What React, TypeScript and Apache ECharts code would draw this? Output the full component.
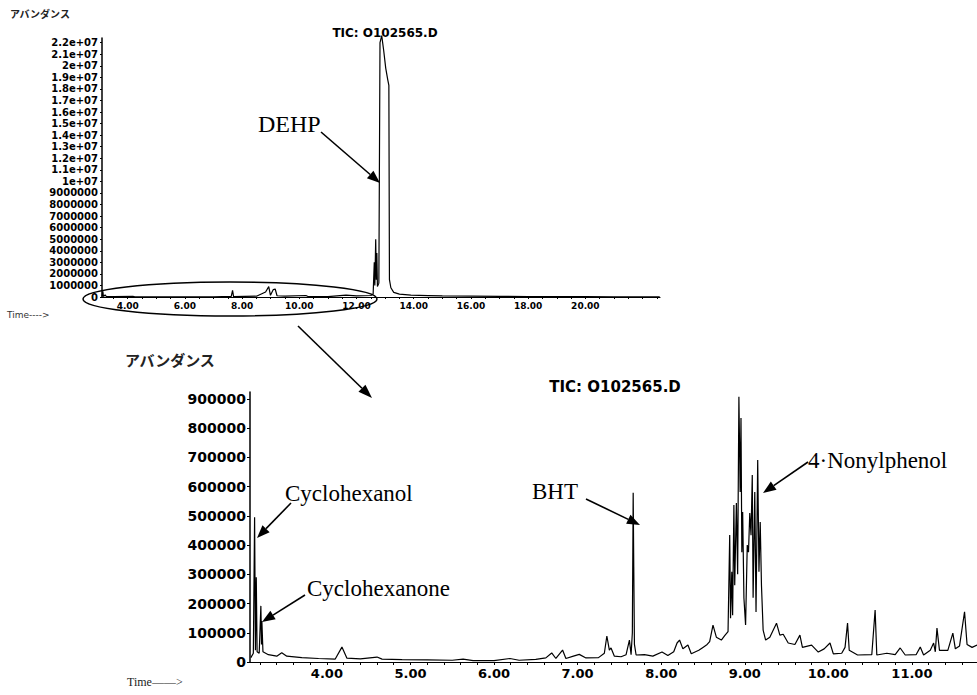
import React, { useEffect, useRef } from "react";
import * as echarts from "echarts";

// ---- Top chromatogram (full run) ----
const topTime = [3.10, 3.13, 3.15, 3.21, 3.25, 3.50, 4.18, 4.25, 5.00, 6.00, 7.00, 7.62, 7.665, 7.70, 8.50, 8.82, 8.93, 8.99, 9.09, 9.155, 9.22, 9.50, 10.23, 10.30, 11.00, 11.63, 12.00, 12.50, 12.58, 12.62, 12.64, 12.67, 12.69, 12.71, 12.73, 12.78, 12.82, 12.88, 12.95, 13.02, 13.09, 13.13, 13.15, 13.20, 13.30, 13.50, 13.90, 14.50, 15.00, 16.00, 17.00, 18.00, 19.00, 20.00, 21.00, 22.60];
const topAbundance = [30000, 495000, 40000, 190000, 40000, 25000, 50000, 12000, 8000, 6000, 20000, 60000, 580000, 30000, 70000, 430000, 900000, 150000, 640000, 690000, 110000, 70000, 130000, 40000, 40000, 170000, 90000, 130000, 250000, 3000000, 1000000, 5000000, 1500000, 3800000, 900000, 1200000, 22000000, 22600000, 21300000, 19800000, 18800000, 18300000, 1500000, 800000, 400000, 250000, 160000, 120000, 90000, 70000, 50000, 40000, 30000, 25000, 20000, 15000];

// ---- Bottom chromatogram (zoomed 3–12 min) ----
const bottomTime = [3.09, 3.12, 3.135, 3.145, 3.155, 3.165, 3.19, 3.21, 3.218, 3.222, 3.235, 3.30, 3.40, 3.46, 3.52, 3.70, 3.90, 4.10, 4.18, 4.24, 4.40, 4.60, 4.66, 4.90, 5.20, 5.50, 5.63, 5.75, 6.00, 6.19, 6.30, 6.50, 6.62, 6.69, 6.74, 6.82, 6.86, 6.95, 7.02, 7.10, 7.25, 7.32, 7.35, 7.38, 7.40, 7.44, 7.52, 7.58, 7.62, 7.64, 7.655, 7.665, 7.672, 7.68, 7.70, 7.80, 7.90, 8.01, 8.08, 8.15, 8.19, 8.22, 8.26, 8.32, 8.36, 8.45, 8.50, 8.55, 8.58, 8.62, 8.66, 8.72, 8.76, 8.80, 8.82, 8.83, 8.845, 8.855, 8.87, 8.88, 8.90, 8.915, 8.93, 8.945, 8.955, 8.965, 8.975, 8.99, 9.01, 9.03, 9.045, 9.06, 9.075, 9.09, 9.10, 9.12, 9.135, 9.155, 9.17, 9.185, 9.20, 9.22, 9.25, 9.30, 9.38, 9.42, 9.46, 9.52, 9.60, 9.66, 9.69, 9.80, 9.88, 9.95, 10.02, 10.06, 10.16, 10.20, 10.23, 10.25, 10.35, 10.52, 10.56, 10.58, 10.70, 10.80, 10.86, 10.92, 11.05, 11.10, 11.14, 11.22, 11.26, 11.28, 11.30, 11.33, 11.43, 11.49, 11.52, 11.57, 11.63, 11.66, 11.72, 11.78];
const bottomAbundance = [15000, 30000, 495000, 40000, 290000, 35000, 30000, 192000, 60000, 140000, 35000, 25000, 20000, 32000, 20000, 15000, 12000, 10000, 51000, 13000, 11000, 17000, 10000, 8000, 7000, 6000, 10000, 5000, 5000, 12000, 6000, 9000, 14000, 31000, 12000, 41000, 12000, 20000, 26000, 14000, 15000, 30000, 89000, 41000, 48000, 20000, 18000, 25000, 75000, 25000, 100000, 579000, 325000, 60000, 24000, 25000, 20000, 34000, 22000, 35000, 65000, 75000, 45000, 58000, 28000, 40000, 50000, 60000, 70000, 126000, 85000, 75000, 90000, 104000, 435000, 150000, 309000, 160000, 537000, 263000, 544000, 300000, 908000, 582000, 835000, 376000, 513000, 219000, 127000, 400000, 376000, 510000, 434000, 640000, 220000, 582000, 171000, 691000, 309000, 479000, 263000, 109000, 75000, 85000, 133000, 92000, 95000, 65000, 60000, 92000, 50000, 58000, 34000, 45000, 65000, 28000, 30000, 50000, 133000, 40000, 24000, 25000, 178000, 24000, 30000, 25000, 48000, 24000, 25000, 51000, 24000, 40000, 65000, 35000, 116000, 40000, 40000, 99000, 45000, 55000, 172000, 60000, 50000, 58000];

// ---- Axis ticks ----
const topYTicks = [0, 1000000, 2000000, 3000000, 4000000, 5000000, 6000000, 7000000, 8000000, 9000000, 10000000, 11000000, 12000000, 13000000, 14000000, 15000000, 16000000, 17000000, 18000000, 19000000, 20000000, 21000000, 22000000];
const topXLabels = [4, 6, 8, 10, 12, 14, 16, 18, 20];
const bottomYTicks = [0, 100000, 200000, 300000, 400000, 500000, 600000, 700000, 800000, 900000];
const bottomXLabels = [4, 5, 6, 7, 8, 9, 10, 11];

const TITLE = "TIC: O102565.D";
const Y_NAME = "アバンダンス";

function zip(a: number[], b: number[]) {
  return a.map((t, i) => [t, b[i]]);
}

function fmtTop(v: number) {
  if (v >= 10000000) return v.toExponential().replace(/e\+(\d)$/, "e+0$1");
  return String(v);
}

function arrow(x1: number, y1: number, x2: number, y2: number, head = 13, half = 5) {
  const dx = x2 - x1, dy = y2 - y1;
  const L = Math.sqrt(dx * dx + dy * dy);
  const ux = dx / L, uy = dy / L;
  const bx = x2 - ux * head, by = y2 - uy * head;
  return [
    { type: "line", shape: { x1, y1, x2: bx, y2: by }, style: { stroke: "#000", lineWidth: 1.6 } },
    {
      type: "polygon",
      shape: { points: [[x2, y2], [bx - uy * half, by + ux * half], [bx + uy * half, by - ux * half]] },
      style: { fill: "#000" },
    },
  ];
}

function minorTicks(from: number, to: number, step: number) {
  const out: number[] = [];
  const n = Math.round((to - from) / step);
  for (let i = 0; i <= n; i++) out.push(+(from + i * step).toFixed(3));
  return out;
}

export default function App() {
  const ref = useRef<HTMLDivElement>(null);
  useEffect(() => {
    if (!ref.current) return;
    const chart = echarts.init(ref.current, null, { renderer: "svg" });
    const sans = "DejaVu Sans";
    const serif = "Liberation Serif";
    const ann = (text: string, x: number, y: number, size = 23) => ({
      type: "text", x, y,
      style: { text, fill: "#000", font: `${size}px "${serif}"`, textVerticalAlign: "middle" },
    });
    chart.setOption({
      animation: false,
      backgroundColor: "#fff",
      grid: [
        { left: 102, top: 38, width: 558, height: 259 },
        { left: 250, top: 392, width: 727, height: 270 },
      ],
      xAxis: [
        {
          type: "value", gridIndex: 0, min: 3.1, max: 22.61,
          splitLine: { show: false },
          axisLine: { lineStyle: { color: "#000", width: 1.2 } },
          axisTick: { customValues: minorTicks(3.5, 22.5, 0.5), length: 2, lineStyle: { color: "#000" } },
          axisLabel: {
            customValues: topXLabels, formatter: (v: number) => v.toFixed(2),
            color: "#000", fontFamily: sans, fontWeight: "bold", fontSize: 9, margin: 4,
          },
        },
        {
          type: "value", gridIndex: 1, min: 3.08, max: 11.779,
          splitLine: { show: false },
          axisLine: { lineStyle: { color: "#000", width: 1.2 } },
          axisTick: { customValues: minorTicks(3.2, 11.6, 0.2), length: 3, lineStyle: { color: "#000" } },
          axisLabel: {
            customValues: bottomXLabels, formatter: (v: number) => v.toFixed(2),
            color: "#000", fontFamily: sans, fontWeight: "bold", fontSize: 13, margin: 5,
          },
        },
      ],
      yAxis: [
        {
          type: "value", gridIndex: 0, min: 0, max: 22400000,
          splitLine: { show: false },
          axisLine: { show: true, lineStyle: { color: "#000", width: 1.5 } },
          axisTick: { show: true, customValues: topYTicks, length: 2, lineStyle: { color: "#000" } },
          axisLabel: {
            customValues: topYTicks, formatter: fmtTop,
            color: "#000", fontFamily: sans, fontWeight: "bold", fontSize: 10, margin: 4,
          },
        },
        {
          type: "value", gridIndex: 1, min: 0, max: 924000,
          splitLine: { show: false },
          axisLine: { show: true, lineStyle: { color: "#000", width: 1.5 } },
          axisTick: { show: true, customValues: bottomYTicks, length: 3, lineStyle: { color: "#000" } },
          axisLabel: {
            customValues: bottomYTicks, formatter: (v: number) => String(v),
            color: "#000", fontFamily: sans, fontWeight: "bold", fontSize: 14, margin: 4,
          },
        },
      ],
      series: [
        {
          type: "line", xAxisIndex: 0, yAxisIndex: 0, data: zip(topTime, topAbundance),
          showSymbol: false, clip: false, lineStyle: { color: "#000", width: 1.2 },
        },
        {
          type: "line", xAxisIndex: 1, yAxisIndex: 1, data: zip(bottomTime, bottomAbundance),
          showSymbol: false, clip: false, lineStyle: { color: "#000", width: 1.2 },
        },
      ],
      graphic: [
        { type: "text", x: 10, y: 13, style: { text: Y_NAME, fill: "#222", font: `bold 10px "Noto Sans CJK JP"`, textVerticalAlign: "middle" } },
        { type: "text", x: 7, y: 315, style: { text: "Time---->", fill: "#333", font: `9px "${sans}"`, textVerticalAlign: "middle" } },
        { type: "text", x: 385, y: 33, style: { text: TITLE, fill: "#000", font: `bold 12px "${sans}"`, textAlign: "center", textVerticalAlign: "middle" } },
        { type: "text", x: 125, y: 359, style: { text: Y_NAME, fill: "#222", font: `bold 15px "Noto Sans CJK JP"`, textVerticalAlign: "middle" } },
        { type: "text", x: 127, y: 682, style: { text: "Time——>", fill: "#222", font: `12px "${serif}"`, textVerticalAlign: "middle" } },
        { type: "text", x: 615, y: 387, style: { text: TITLE, fill: "#000", font: `bold 15px "${sans}"`, textAlign: "center", textVerticalAlign: "middle" } },
        ann("DEHP", 258, 124, 24),
        ...arrow(321, 132, 380, 183),
        { type: "ellipse", shape: { cx: 230, cy: 299, rx: 147, ry: 17 }, style: { fill: "none", stroke: "#000", lineWidth: 1.5 } },
        ...arrow(298, 326, 372, 398, 14, 5),
        ann("Cyclohexanol", 285, 493),
        ...arrow(291, 503, 257, 538),
        ann("Cyclohexanone", 307, 588),
        ...arrow(305, 595, 262, 622),
        ann("BHT", 532, 491),
        ...arrow(586, 499, 640, 525),
        ann("4·Nonylphenol", 808, 460),
        ...arrow(808, 462, 763, 493),
      ],
    });
    return () => chart.dispose();
  }, []);
  return <div ref={ref} style={{ position: "absolute", left: 0, top: 0, width: 977, height: 695 }} />;
}
